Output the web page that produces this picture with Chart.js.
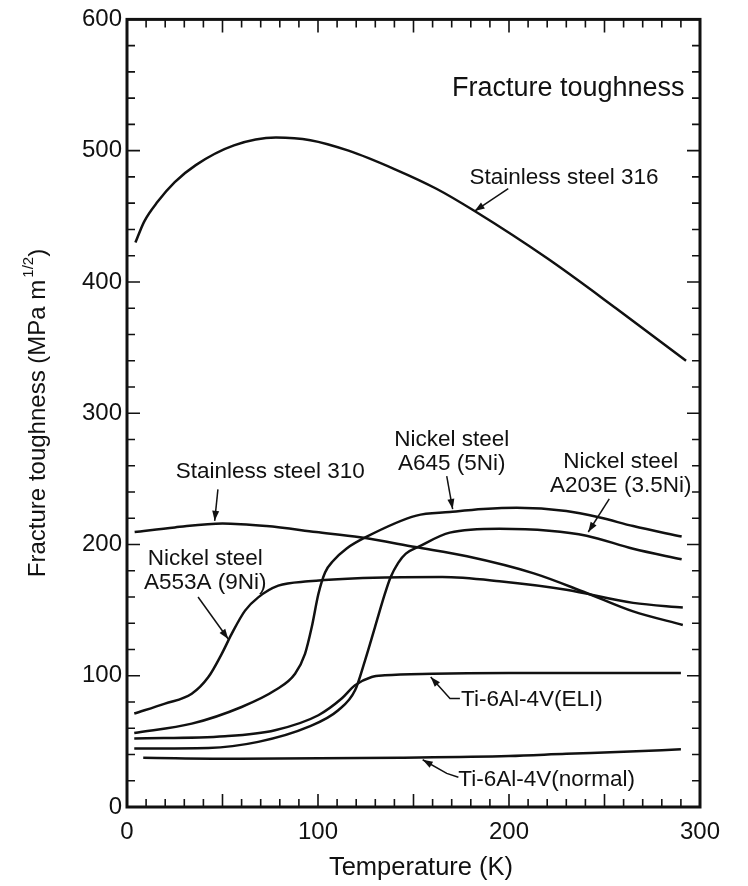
<!DOCTYPE html>
<html>
<head>
<meta charset="utf-8">
<script src="https://cdn.jsdelivr.net/npm/chart.js@4"></script>
<style>
    html, body { margin: 0; padding: 0; background: #fff; }
</style>
</head>
<body>
<canvas id="chart" width="748" height="886"></canvas>
<script>
// tick labels
const tempTicks = [0, 100, 200, 300];
const toughTicks = [0, 100, 200, 300, 400, 500, 600];

// Stainless steel 316
const ss316Temp = [4.4, 9, 16, 25, 36, 56, 78, 96, 116, 140, 162, 182, 220, 256, 292.7];
const ss316K = [430, 446, 461, 476, 489, 504, 510, 508, 500, 486, 471, 454, 418, 380, 340];

// Stainless steel 310
const ss310Temp = [4, 25, 50, 73, 99, 122, 151, 178, 213, 239, 265, 291];
const ss310K = [209.5, 213, 216, 214, 209.5, 205.5, 198, 191, 178, 164, 149, 138.7];

// Nickel steel A553A (9Ni)
const a553Temp = [3.8, 19.9, 33.9, 42.6, 49.6, 54.8, 61.8, 68.7, 79.2, 94.9, 135, 165, 195, 230, 265, 291];
const a553K = [71.2, 78.8, 86.3, 99, 116.7, 131.9, 149.6, 159.7, 168.6, 171.9, 174.9, 175.2, 172, 165.5, 155.5, 152];

// Nickel steel A645 (5Ni)
const a645Temp = [3.8, 33.9, 60, 77.5, 88, 93.2, 96.7, 100.2, 103.7, 108, 115, 125, 151.5, 169, 186.5, 204, 230, 247.6, 265, 290.4];
const a645K = [56.4, 63.5, 76.2, 88.9, 101.5, 116.7, 136.9, 162.3, 178.7, 187.6, 197, 205.6, 222, 224.7, 227, 228, 225.5, 220.5, 214, 206];

// Nickel steel A203E (3.5Ni)
const a203Temp = [3.8, 42.6, 68.7, 94.9, 110.6, 119.4, 124.6, 129.8, 135, 138, 142, 146, 153, 169, 195, 221, 240.6, 265, 290.4];
const a203K = [44.6, 45, 49.6, 61, 73.7, 88.9, 111.6, 136.9, 162.3, 175, 186, 193, 198.5, 209, 212, 210.5, 206.7, 196.7, 188.7];

// Ti-6Al-4V (ELI)
const tiEliTemp = [3.8, 51.3, 77.5, 100.2, 112.4, 119.4, 128.1, 135, 160, 200, 250, 290];
const tiEliK = [52.2, 53.9, 58.5, 69.9, 82.6, 92.7, 99, 100.3, 101.5, 102, 102, 102];

// Ti-6Al-4V (normal)
const tiNormTemp = [8.5, 58.6, 143, 200, 230, 260, 290];
const tiNormK = [37.5, 36.8, 37.6, 38.8, 40.5, 42, 44];

const series = [
    [ss316Temp, ss316K],
    [ss310Temp, ss310K],
    [a553Temp, a553K],
    [a645Temp, a645K],
    [a203Temp, a203K],
    [tiEliTemp, tiEliK],
    [tiNormTemp, tiNormK]
];

// text labels, placed in data units
const labels = [
    { lines: ['Fracture toughness'], x: 231, y: 547, size: 27 },
    { lines: ['Stainless steel 316'], x: 228.8, y: 479, size: 22.5 },
    { lines: ['Stainless steel 310'], x: 75, y: 255, size: 22.5 },
    { lines: ['Nickel steel', 'A553A (9Ni)'], x: 41, y: 189, size: 22.5 },
    { lines: ['Nickel steel', 'A645 (5Ni)'], x: 170, y: 280, size: 22.5 },
    { lines: ['Nickel steel', 'A203E (3.5Ni)'], x: 258.5, y: 263, size: 22.5 },
    { lines: ['Ti-6Al-4V(ELI)'], x: 212, y: 81.3, size: 22.5 },
    { lines: ['Ti-6Al-4V(normal)'], x: 219.7, y: 20.5, size: 22.5 }
];

// leader arrows, last point is the tip
const arrows = [
    [[199.6, 471], [182, 454]],
    [[47.6, 242], [45.9, 218]],
    [[37.2, 160], [53, 128]],
    [[167.4, 252], [170.5, 227]],
    [[252.5, 234.7], [241.5, 209.5]],
    [[174.3, 82.6], [169.1, 82.6], [159, 99]],
    [[173.5, 22.6], [167.4, 25.6], [154.8, 36]]
];

const ink = '#111';
const fontFamily = '"Liberation Sans", Arial, Helvetica, sans-serif';

const framePlugin = {
    id: 'frame',
    afterDraw(chart) {
        const ctx = chart.ctx;
        const a = chart.chartArea;
        const xs = chart.scales.x;
        const ys = chart.scales.y;
        ctx.save();
        ctx.strokeStyle = ink;
        ctx.lineWidth = 1.6;
        ctx.beginPath();
        for (let t = 10; t < 300; t += 10) {
            const px = xs.getPixelForValue(t);
            const len = t % 50 === 0 ? 13 : 8;
            ctx.moveTo(px, a.bottom); ctx.lineTo(px, a.bottom - len);
            ctx.moveTo(px, a.top); ctx.lineTo(px, a.top + len);
        }
        for (let v = 20; v < 600; v += 20) {
            const py = ys.getPixelForValue(v);
            const len = v % 100 === 0 ? 13 : 8;
            ctx.moveTo(a.left, py); ctx.lineTo(a.left + len, py);
            ctx.moveTo(a.right, py); ctx.lineTo(a.right - len, py);
        }
        ctx.stroke();
        ctx.lineWidth = 3;
        ctx.strokeRect(a.left, a.top, a.right - a.left, a.bottom - a.top);

        ctx.fillStyle = ink;
        ctx.textBaseline = 'middle';

        // x axis title
        ctx.textAlign = 'center';
        ctx.font = '25.5px ' + fontFamily;
        ctx.fillText('Temperature (K)', 421, 868);

        // y axis title with superscript
        ctx.textAlign = 'left';
        ctx.translate(38, 413);
        ctx.rotate(-Math.PI / 2);
        const main = 'Fracture toughness (MPa m';
        ctx.font = '24px ' + fontFamily;
        const w1 = ctx.measureText(main).width;
        const w3 = ctx.measureText(')').width;
        ctx.font = '15px ' + fontFamily;
        const w2 = ctx.measureText('1/2').width;
        const x0 = -(w1 + w2 + w3 + 2) / 2;
        ctx.font = '24px ' + fontFamily;
        ctx.fillText(main, x0, 0);
        ctx.font = '15px ' + fontFamily;
        ctx.fillText('1/2', x0 + w1 + 2, -9);
        ctx.font = '24px ' + fontFamily;
        ctx.fillText(')', x0 + w1 + w2 + 2, 0);
        ctx.restore();
    }
};

const notePlugin = {
    id: 'notes',
    afterDatasetsDraw(chart) {
        const ctx = chart.ctx;
        const xs = chart.scales.x;
        const ys = chart.scales.y;
        ctx.save();
        ctx.fillStyle = ink;
        ctx.strokeStyle = ink;
        ctx.textAlign = 'center';
        ctx.textBaseline = 'middle';
        labels.forEach(l => {
            ctx.font = l.size + 'px ' + fontFamily;
            const px = xs.getPixelForValue(l.x);
            const py = ys.getPixelForValue(l.y);
            l.lines.forEach((line, i) => ctx.fillText(line, px, py + i * 24));
        });
        ctx.lineWidth = 1.5;
        arrows.forEach(pts => {
            const p = pts.map(q => [xs.getPixelForValue(q[0]), ys.getPixelForValue(q[1])]);
            ctx.beginPath();
            ctx.moveTo(p[0][0], p[0][1]);
            for (let i = 1; i < p.length; i++) ctx.lineTo(p[i][0], p[i][1]);
            ctx.stroke();
            const tip = p[p.length - 1];
            const prev = p[p.length - 2];
            const ang = Math.atan2(tip[1] - prev[1], tip[0] - prev[0]);
            ctx.beginPath();
            ctx.moveTo(tip[0], tip[1]);
            ctx.lineTo(tip[0] - 10 * Math.cos(ang) + 3.5 * Math.sin(ang), tip[1] - 10 * Math.sin(ang) - 3.5 * Math.cos(ang));
            ctx.lineTo(tip[0] - 10 * Math.cos(ang) - 3.5 * Math.sin(ang), tip[1] - 10 * Math.sin(ang) + 3.5 * Math.cos(ang));
            ctx.closePath();
            ctx.fill();
        });
        ctx.restore();
    }
};

const ctx = document.getElementById('chart').getContext('2d');
new Chart(ctx, {
    type: 'line',
    data: {
        datasets: series.map(s => ({
            data: s[0].map((t, i) => ({ x: t, y: s[1][i] })),
            borderColor: ink,
            borderWidth: 2.5,
            pointRadius: 0,
            fill: false,
            cubicInterpolationMode: 'monotone'
        }))
    },
    options: {
        responsive: false,
        animation: false,
        layout: { padding: { top: 17, right: 48, left: 0, bottom: 0 } },
        plugins: { legend: { display: false }, tooltip: { enabled: false } },
        scales: {
            x: {
                type: 'linear',
                min: 0,
                max: 300,
                afterBuildTicks: s => { s.ticks = tempTicks.map(v => ({ value: v })); },
                afterFit: s => { s.height = 79; },
                grid: { display: false, drawTicks: false },
                border: { display: false },
                ticks: { color: ink, padding: 11, maxRotation: 0, autoSkip: false, font: { size: 24, family: fontFamily } }
            },
            y: {
                min: 0,
                max: 600,
                afterBuildTicks: s => { s.ticks = toughTicks.map(v => ({ value: v })); },
                afterFit: s => { s.width = 127; },
                grid: { display: false, drawTicks: false },
                border: { display: false },
                ticks: { color: ink, padding: 5, font: { size: 24, family: fontFamily } }
            }
        }
    },
    plugins: [framePlugin, notePlugin]
});
</script>
</body>
</html>
